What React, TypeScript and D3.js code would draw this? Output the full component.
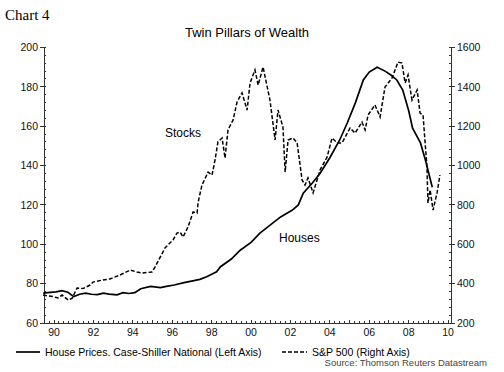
import React from 'react';
import * as d3 from 'd3';

// Case-Shiller national house price index (left axis)
const houseYears = [1989.45, 1989.8, 1990.1, 1990.4, 1990.7, 1991.0, 1991.3, 1991.6, 1991.9, 1992.2, 1992.5, 1992.8, 1993.2, 1993.5, 1993.8, 1994.1, 1994.4, 1994.9, 1995.4, 1995.7, 1996.1, 1996.6, 1997.1, 1997.4, 1997.75, 1998.25, 1998.45, 1999.0, 1999.45, 2000.0, 2000.45, 2001.0, 2001.5, 2002.1, 2002.4, 2002.65, 2003.1, 2003.5, 2004.0, 2004.5, 2004.9, 2005.3, 2005.7, 2006.0, 2006.4, 2006.8, 2007.1, 2007.4, 2007.7, 2008.0, 2008.2, 2008.6, 2008.85, 2009.2];
const houseValues = [75.2, 75.6, 75.8, 76.4, 75.6, 73.4, 74.6, 75.2, 74.6, 74.4, 75.2, 74.7, 74.3, 75.4, 75.0, 75.4, 77.4, 78.6, 78.0, 78.6, 79.3, 80.5, 81.5, 82.2, 83.5, 86, 88.6, 92.5, 97, 101, 105.7, 110, 113.9, 117.4, 120, 126, 131, 136, 144, 153, 162, 172, 183.5, 187.5, 190, 188, 186, 183.5, 178.4, 168, 159, 151.5, 142.8, 129];

// S&P 500 (right axis)
const stockYears = [1989.44, 1989.95, 1990.2, 1990.41, 1990.71, 1990.91, 1991.17, 1991.47, 1991.83, 1991.98, 1992.44, 1992.84, 1993.35, 1993.86, 1994.21, 1994.47, 1994.97, 1995.13, 1995.63, 1996.04, 1996.24, 1996.4, 1996.55, 1996.8, 1997.06, 1997.26, 1997.31, 1997.36, 1997.51, 1997.82, 1998.02, 1998.17, 1998.32, 1998.53, 1998.68, 1998.83, 1999.09, 1999.29, 1999.54, 1999.8, 1999.95, 2000.2, 2000.36, 2000.61, 2000.96, 2001.22, 2001.37, 2001.62, 2001.73, 2001.88, 2002.13, 2002.34, 2002.59, 2002.74, 2002.89, 2003.15, 2003.5, 2003.86, 2004.11, 2004.37, 2004.62, 2005.03, 2005.28, 2005.63, 2005.79, 2005.94, 2006.29, 2006.55, 2006.8, 2007.16, 2007.46, 2007.66, 2007.82, 2007.97, 2008.17, 2008.43, 2008.58, 2008.73, 2008.93, 2008.98, 2009.09, 2009.24, 2009.44, 2009.59];
const stockValues = [342, 334, 327, 342, 317, 325, 378, 375, 393, 408, 418, 424, 444, 469, 459, 454, 459, 485, 581, 622, 657, 662, 637, 688, 764, 759, 810, 835, 901, 967, 952, 1028, 1120, 1140, 1038, 1181, 1232, 1323, 1369, 1282, 1420, 1486, 1409, 1501, 1333, 1130, 1282, 1196, 967, 1130, 1140, 1115, 927, 901, 937, 861, 977, 1043, 1140, 1115, 1115, 1191, 1165, 1221, 1181, 1257, 1308, 1247, 1399, 1445, 1526, 1521, 1420, 1460, 1333, 1384, 1267, 1257, 993, 810, 876, 774, 861, 952];

const xTickYears = [1990, 1992, 1994, 1996, 1998, 2000, 2002, 2004, 2006, 2008, 2010];
const leftTicks = [60, 80, 100, 120, 140, 160, 180, 200];
const rightTicks = [200, 400, 600, 800, 1000, 1200, 1400, 1600];

const font = 'Liberation Sans, Arial, sans-serif';

export default function App() {
  const x = d3.scaleLinear().domain([1989.49, 2010.15]).range([44, 451]);
  const yL = d3.scaleLinear().domain([60, 200]).range([323, 47.5]);
  const yR = d3.scaleLinear().domain([200, 1600]).range([323, 47.5]);

  const houses = houseYears.map((t, i) => [t, houseValues[i]] as [number, number]);
  const stocks = stockYears.map((t, i) => [t, stockValues[i]] as [number, number]);

  const houseLine = d3.line<[number, number]>().x(d => x(d[0])).y(d => yL(d[1]));
  const stockLine = d3.line<[number, number]>().x(d => x(d[0])).y(d => yR(d[1]));

  const leftMinor = d3.range(60, 201, 4);
  const rightMinor = d3.range(200, 1601, 40);
  const quarters = d3.range(1989.5, 2010.15, 0.25);

  return (
    <svg width={504} height={372} style={{ position: 'absolute', left: 0, top: 0, background: '#fff' }}>
      <text x={5} y={20} fontFamily="Liberation Serif, Times New Roman, serif" fontSize={15}>Chart 4</text>
      <text x={247} y={37} fontFamily={font} fontSize={13} textAnchor="middle">Twin Pillars of Wealth</text>

      {/* axes */}
      <g stroke="#333" strokeWidth={1} shapeRendering="crispEdges">
        <line x1={44} x2={44} y1={47.5} y2={323} />
        <line x1={451} x2={451} y1={47.5} y2={323} />
        <line x1={44} x2={451} y1={323} y2={323} />
        {leftTicks.map(v => <line key={'lt' + v} x1={40} x2={44} y1={yL(v)} y2={yL(v)} />)}
        {leftMinor.map(v => <line key={'lm' + v} x1={44} x2={46} y1={yL(v)} y2={yL(v)} />)}
        {rightTicks.map(v => <line key={'rt' + v} x1={451} x2={455} y1={yR(v)} y2={yR(v)} />)}
        {rightMinor.map(v => <line key={'rm' + v} x1={449} x2={451} y1={yR(v)} y2={yR(v)} />)}
        {quarters.map(t => <line key={'q' + t} x1={x(t)} x2={x(t)} y1={323} y2={Number.isInteger(t) ? 320 : 321} />)}
      </g>

      <g fontFamily={font} fontSize={10.5} fill="#111">
        {leftTicks.map(v => <text key={'ll' + v} x={38} y={yL(v)} dy="0.35em" textAnchor="end">{v}</text>)}
        {rightTicks.map(v => <text key={'rl' + v} x={457} y={yR(v)} dy="0.35em">{v}</text>)}
        {xTickYears.map(t => <text key={'xl' + t} x={x(t)} y={336} textAnchor="middle">{String(t % 100).padStart(2, '0')}</text>)}
      </g>

      <path d={stockLine(stocks) ?? ''} fill="none" stroke="#000" strokeWidth={1.5} strokeDasharray="4,2" />
      <path d={houseLine(houses) ?? ''} fill="none" stroke="#000" strokeWidth={1.7} />

      <text x={165} y={137} fontFamily={font} fontSize={12}>Stocks</text>
      <text x={279} y={242} fontFamily={font} fontSize={12}>Houses</text>

      {/* legend */}
      <line x1={16} x2={40} y1={352} y2={352} stroke="#000" strokeWidth={1.7} />
      <text x={45} y={356} fontFamily={font} fontSize={10.5}>House Prices. Case-Shiller National (Left Axis)</text>
      <line x1={282} x2={307} y1={352} y2={352} stroke="#000" strokeWidth={1.5} strokeDasharray="4,2" />
      <text x={312} y={356} fontFamily={font} fontSize={10.5}>S&amp;P 500 (Right Axis)</text>
      <text x={487} y={366} fontFamily={font} fontSize={9.5} fill="#444" textAnchor="end">Source: Thomson Reuters Datastream</text>
    </svg>
  );
}
